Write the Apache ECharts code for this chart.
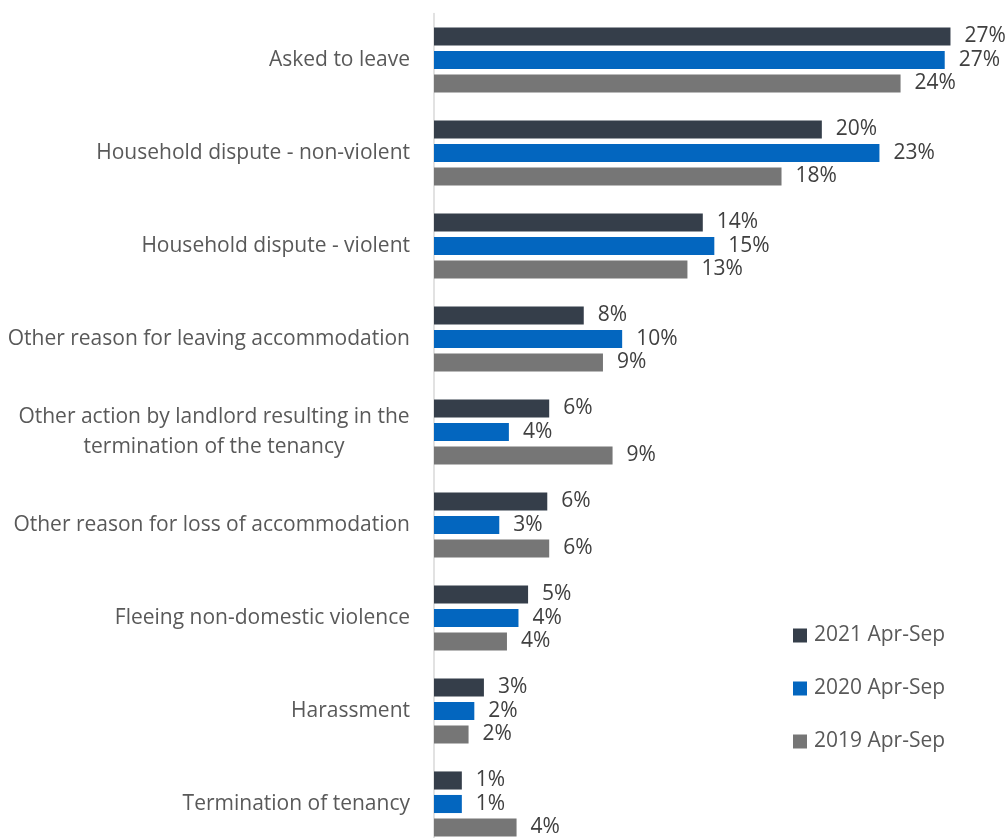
<!DOCTYPE html>
<html><head><meta charset="utf-8">
<script src="https://cdn.jsdelivr.net/npm/echarts@6/dist/echarts.min.js"></script>
<style>html,body{margin:0;padding:0;background:#fff;overflow:hidden}#c{width:1006px;height:860px}</style>
</head><body><div id="c"></div>
<script>
const categories = [
  'Asked to leave',
  'Household dispute - non-violent',
  'Household dispute - violent',
  'Other reason for leaving accommodation',
  'Other action by landlord resulting in the termination of the tenancy',
  'Other reason for loss of accommodation',
  'Fleeing non-domestic violence',
  'Harassment',
  'Termination of tenancy'
];
const seriesNames = ['2021 Apr-Sep', '2020 Apr-Sep', '2019 Apr-Sep'];
const values2021 = [26.9, 20.2, 14.0, 7.8, 6.0, 5.9, 4.9, 2.6, 1.45];
const values2020 = [26.6, 23.2, 14.6, 9.8, 3.9, 3.4, 4.4, 2.1, 1.45];
const values2019 = [24.3, 18.1, 13.2, 8.8, 9.3, 6.0, 3.8, 1.8, 4.3];

const FONT = 'Open Sans';
const FS = 21;
const colors = ['#353E4A', '#0366BF', '#767676'];

const line1 = 'Other action by landlord resulting in the';
const line2 = 'termination of the tenancy';
const ctx = document.createElement('canvas').getContext('2d');
ctx.font = FS + 'px "' + FONT + '"';
const w1 = Math.ceil(ctx.measureText(line1).width);

const chart = echarts.init(document.getElementById('c'), null, {renderer: 'canvas'});
function mk(name, data, color) {
  return {
    name: name, type: 'bar', data: data,
    barCategoryGap: '30%', barGap: '30%',
    itemStyle: {color: color},
    label: {
      show: true, position: 'right', distance: 14,
      formatter: p => Math.round(p.value) + '%',
      color: '#404040', fontSize: FS, fontFamily: FONT
    }
  };
}
chart.setOption({
  animation: false,
  backgroundColor: '#fff',
  grid: {left: 434, top: 13.5, width: 537.6, height: 837, containLabel: false},
  xAxis: {type: 'value', min: 0, max: 28, show: false},
  yAxis: {
    type: 'category', data: categories, inverse: true,
    axisLine: {show: true, lineStyle: {color: '#D9D9D9', width: 1.5}},
    axisTick: {show: false},
    axisLabel: {
      margin: 24, color: '#595959', fontSize: FS, fontFamily: FONT,
      formatter: v => v === categories[4] ? '{c|' + line1 + '}\n{c|' + line2 + '}' : v,
      rich: {c: {width: w1, align: 'center', fontSize: FS, fontFamily: FONT, color: '#595959', lineHeight: 30}}
    }
  },
  legend: {
    orient: 'vertical', left: 788, top: 620,
    icon: 'rect', itemWidth: 14, itemHeight: 14, itemGap: 32,
    textStyle: {fontSize: FS, color: '#595959', fontFamily: FONT, padding: [0, 0, 0, 2]},
    data: seriesNames
  },
  series: [
    mk(seriesNames[0], values2021, colors[0]),
    mk(seriesNames[1], values2020, colors[1]),
    mk(seriesNames[2], values2019, colors[2])
  ]
});
</script></body></html>
